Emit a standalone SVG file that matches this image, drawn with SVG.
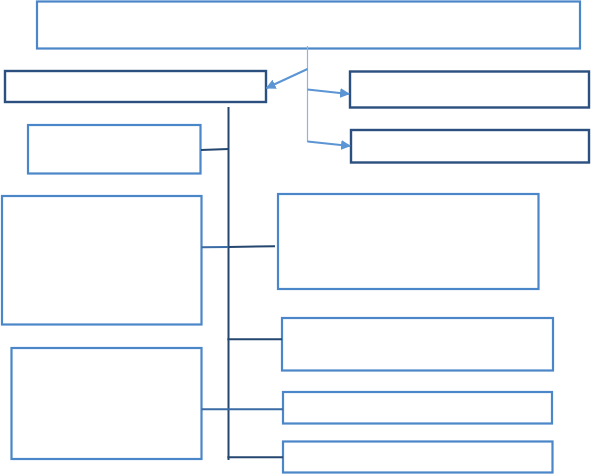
<svg xmlns="http://www.w3.org/2000/svg" width="591" height="474" viewBox="0 0 591 474">
<style>
.lb{fill:#fff;stroke:#4A86C8;stroke-width:2.2}
.db{fill:#fff;stroke:#2B4F7E;stroke-width:2.4}
.c{fill:none;stroke-width:2}
.dk{stroke:#25476F}
.lt{stroke:#5B95D3}
</style>
<defs>
<marker id="ah" viewBox="0 0 10 10" refX="9" refY="5" markerWidth="5" markerHeight="5" orient="auto" markerUnits="strokeWidth">
<path d="M0,0 L10,5 L0,10 z" fill="#5B95D3"/>
</marker>
</defs>
<g id="n-top"><rect class="lb" x="37" y="1.5" width="543" height="47"/></g>
<g id="n-left1"><rect class="db" x="5" y="71" width="261" height="31"/></g>
<g id="n-right1"><rect class="db" x="350" y="71.5" width="239" height="36"/></g>
<g id="n-right2"><rect class="db" x="351" y="130" width="238" height="32.5"/></g>
<g id="n-c"><rect class="lb" x="28" y="125" width="172.5" height="48.5"/></g>
<g id="n-d"><rect class="lb" x="2" y="196" width="199.5" height="128.5"/></g>
<g id="n-e"><rect class="lb" x="11.5" y="348" width="190" height="111"/></g>
<g id="n-f"><rect class="lb" x="278" y="194" width="260.5" height="95"/></g>
<g id="n-g"><rect class="lb" x="282" y="318" width="271" height="52.5"/></g>
<g id="n-h"><rect class="lb" x="283" y="392" width="269" height="31.5"/></g>
<g id="n-i"><rect class="lb" x="283" y="441.5" width="269.5" height="31"/></g>
<g id="connectors">
<line x1="307.5" y1="46" x2="307.5" y2="142" stroke="#8DB4E2" stroke-width="1.2"/>
<line class="c lt" x1="307.5" y1="69" x2="266.5" y2="88" marker-end="url(#ah)"/>
<line class="c lt" x1="307.5" y1="89.5" x2="349" y2="94" marker-end="url(#ah)"/>
<line class="c lt" x1="307.5" y1="141.5" x2="350" y2="146" marker-end="url(#ah)"/>
<line class="c dk" x1="228.5" y1="107" x2="228.5" y2="460"/>
<line class="c dk" x1="201" y1="150" x2="228.5" y2="149"/>
<line class="c" stroke="#3A6BA5" x1="201.5" y1="247.3" x2="228.5" y2="247"/>
<line class="c dk" x1="228.5" y1="247" x2="275" y2="246.3"/>
<line class="c dk" x1="227.5" y1="339.3" x2="282" y2="339.3"/>
<line class="c" stroke="#3A6BA5" x1="201.5" y1="409.3" x2="283" y2="409.3"/>
<line class="c dk" x1="227.5" y1="457.3" x2="283" y2="457.3"/>
</g>
</svg>
